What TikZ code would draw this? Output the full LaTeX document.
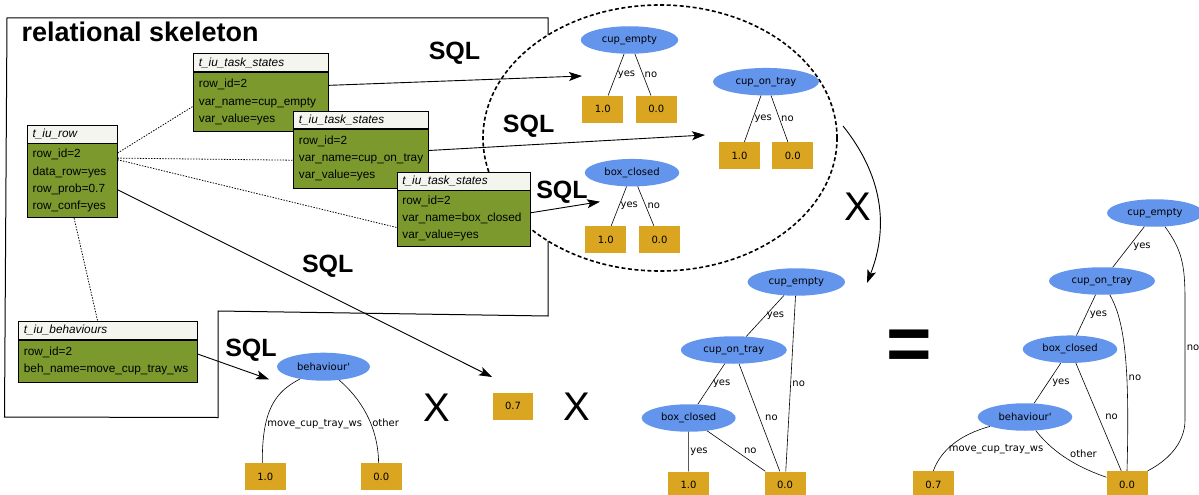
\documentclass[tikz,border=0pt]{standalone}
\usepackage{fontspec}
\setmainfont{Liberation Sans}
\newfontfamily\treefont{DejaVu Sans}
\usetikzlibrary{positioning}
\usetikzlibrary{shapes.geometric}
\usetikzlibrary{arrows.meta}

\definecolor{tblgreen}{RGB}{124,153,46}
\definecolor{tblhead}{RGB}{245,245,240}
\definecolor{varblue}{RGB}{100,149,237}
\definecolor{leafgold}{RGB}{218,165,32}

\newcommand{\tblfont}{\fontsize{11.8}{17.2}\selectfont}
\newcommand{\trfont}{\treefont\fontsize{10}{12}\selectfont}

\tikzset{
  tblhd/.style={draw, line width=0.8pt, fill=tblhead, font=\tblfont\itshape, align=left,
    inner xsep=5.5pt, inner ysep=0pt, minimum height=17.5pt, anchor=north west},
  tblbd/.style={draw, line width=0.8pt, fill=tblgreen, font=\tblfont, align=left,
    inner xsep=5.5pt, inner ysep=0pt},
  var/.style={ellipse, fill=varblue, inner sep=0pt, minimum height=27.5pt, font=\trfont},
  leaf/.style={rectangle, fill=leafgold, inner sep=0pt, minimum width=41pt, minimum height=27pt, font=\trfont},
  elab/.style={font=\trfont, inner sep=1.5pt},
  tedge/.style={line width=0.6pt},
  sqlarrow/.style={line width=0.9pt, -{Stealth[length=13pt, width=9pt, inset=3pt]}},
  sqllabel/.style={font=\fontsize{25}{25}\selectfont\bfseries},
  timeslabel/.style={font=\fontsize{40}{40}\selectfont},
  relline/.style={line width=0.8pt, dash pattern=on 1.4pt off 1.4pt}
}

\begin{document}
\begin{tikzpicture}[x=1pt, y=-1pt]
      \useasboundingbox (0,0) rectangle (1199,495);

      \coordinate (ceTip) at (582, 76);
      \coordinate (ctTip) at (705, 135);
      \coordinate (bcTip) at (600, 201.7);
      \coordinate (prTip) at (492, 377);
      \coordinate (bhTip) at (269, 379.3);
      \coordinate (mulA) at (843, 126);
      \coordinate (mulB) at (867, 283);

      % skeleton frame and product group
      \draw[line width=1pt] (7, 18) -- (548, 18) -- (548, 316) -- (218, 311) -- (218, 417.5) -- (4.5, 417) -- cycle;
      \draw[line width=1.6pt, dash pattern=on 4pt off 2.5pt, fill=white] (660, 138) ellipse [x radius=177pt, y radius=133pt];

      \node[anchor=base west, font=\fontsize{27}{27}\selectfont\bfseries] (skel) at (18, 41.7) {relational skeleton};

      % tables
      \node[tblhd, text width=124pt] (ts1hd) at (193, 53.5) {t\_iu\_task\_states};
      \node[tblbd, text width=124pt, minimum height=59.5pt, below=0pt of ts1hd] (ts1) {row\_id=2\\var\_name=cup\_empty\\var\_value=yes};
      \node[tblhd, text width=124pt] (ts2hd) at (293, 110.5) {t\_iu\_task\_states};
      \node[tblbd, text width=124pt, minimum height=59pt, below=0pt of ts2hd] (ts2) {row\_id=2\\var\_name=cup\_on\_tray\\var\_value=yes};
      \node[tblhd, text width=122pt] (ts3hd) at (396.5, 172) {t\_iu\_task\_states};
      \node[tblbd, text width=122pt, minimum height=55.5pt, below=0pt of ts3hd] (ts3) {row\_id=2\\var\_name=box\_closed\\var\_value=yes};
      \node[tblhd, text width=79pt] (trowhd) at (26.7, 125) {t\_iu\_row};
      \node[tblbd, text width=79pt, minimum height=74pt, below=0pt of trowhd] (trow) {row\_id=2\\data\_row=yes\\row\_prob=0.7\\row\_conf=yes};
      \node[tblhd, text width=167.5pt, minimum height=18pt] (tbehhd) at (18, 321) {t\_iu\_behaviours};
      \node[tblbd, text width=167.5pt, minimum height=42pt, below=0pt of tbehhd] (tbeh) {row\_id=2\\beh\_name=move\_cup\_tray\_ws};

      \draw[relline] ([yshift=27.6pt]trow.east) -- ([yshift=-4.4pt]ts1.west);
      \draw[relline] ([yshift=22.6pt]trow.east) -- ([yshift=-1.5pt]ts2.west);
      \draw[relline] ([yshift=21pt]trow.east) -- ([yshift=-9pt]ts3.west);
      \draw[relline] ([xshift=2pt]trow.south) -- ([xshift=-10pt]tbehhd.north);

      % SQL queries
      \draw[sqlarrow] ([yshift=16.6pt]ts1.east) -- (ceTip);
      \draw[sqlarrow] ([yshift=8.2pt]ts2.east) -- (ctTip);
      \draw[sqlarrow] ([yshift=5.6pt]ts3.east) -- (bcTip);
      \draw[sqlarrow] ([yshift=-9pt]trow.east) -- (prTip);
      \draw[sqlarrow] ([yshift=7.3pt]tbeh.east) -- (bhTip);

      \node[sqllabel] (sqa) at (454.5, 53) {SQL};
      \node[sqllabel] (sqb) at (528.6, 126.7) {SQL};
      \node[sqllabel] (sqc) at (562, 192.5) {SQL};
      \node[sqllabel] (sqd) at (327.7, 266.7) {SQL};
      \node[sqllabel] (sqe) at (251, 350.5) {SQL};

      % single variable trees
      \node[var, minimum width=97.5pt] (ce) at (629.5, 40) {cup\_empty};
      \node[leaf] (ceY) at (602.8, 109.2) {1.0};
      \node[leaf] (ceN) at (656.3, 109.2) {0.0};
      \draw[tedge] (ce) -- node[elab, right] {yes} (ceY);
      \draw[tedge] (ce) -- node[elab, right] {no} (ceN);

      \node[var, minimum width=106pt] (ct) at (766, 81.7) {cup\_on\_tray};
      \node[leaf] (ctY) at (739.5, 155.5) {1.0};
      \node[leaf] (ctN) at (792.8, 155.5) {0.0};
      \draw[tedge] (ct) -- node[elab, right] {yes} (ctY);
      \draw[tedge] (ct) -- node[elab, right] {no} (ctN);

      \node[var, minimum width=94.5pt] (bc) at (632, 172.7) {box\_closed};
      \node[leaf] (bcY) at (605.8, 239.5) {1.0};
      \node[leaf] (bcN) at (659.5, 239.5) {0.0};
      \draw[tedge] (bc) -- node[elab, right] {yes} (bcY);
      \draw[tedge] (bc) -- node[elab, right] {no} (bcN);

      \node[var, minimum width=93pt, minimum height=28pt] (bh) at (323.5, 366.7) {behaviour\textquotesingle};
      \node[leaf] (bhY) at (265.3, 476.5) {1.0};
      \node[leaf] (bhN) at (381.2, 476.5) {0.0};
      \draw[tedge] (bh) .. controls (275, 392) and (262, 410) .. ([xshift=-3pt]bhY.north) node[elab, pos=0.7, right] {move\_cup\_tray\_ws};
      \draw[tedge] (bh) .. controls (360, 398) and (378, 425) .. ([xshift=-2.6pt]bhN.north) node[elab, pos=0.6, right] {other};

      \node[leaf, minimum width=40.3pt, minimum height=27.3pt] (pr) at (513, 406.3) {0.7};
      \node[timeslabel] (xa) at (436.6, 408) {X};
      \node[timeslabel] (xb) at (577, 407) {X};

      % multiplication of the group
      \draw[line width=0.9pt, -{Stealth[length=13pt, width=9pt, inset=3pt]}] (mulA) to[bend left=30] (mulB);
      \node[timeslabel] (xc) at (858, 207) {X};

      % product tree
      \node[var, minimum width=97.5pt] (mce) at (796.3, 282) {cup\_empty};
      \node[var, minimum width=106pt] (mct) at (733.8, 350) {cup\_on\_tray};
      \node[var, minimum width=94pt] (mbc) at (688.7, 418) {box\_closed};
      \node[leaf] (mone) at (688.5, 485) {1.0};
      \node[leaf] (mzero) at (785, 485) {0.0};
      \draw[tedge] (mce) -- node[elab, right] {yes} (mct);
      \draw[tedge] (mce) -- node[elab, right] {no} (mzero);
      \draw[tedge] (mct) -- node[elab, right] {yes} (mbc);
      \draw[tedge] (mct) -- node[elab, right=4pt] {no} (mzero);
      \draw[tedge] (mbc) -- node[elab, right] {yes} (mone);
      \draw[tedge] (mbc) -- node[elab, right=6pt] {no} (mzero);

      \node[font=\fontsize{78}{78}\selectfont\bfseries] (eq) at (909, 350) {=};

      % final tree
      \node[var, minimum width=96pt] (rce) at (1155, 213) {cup\_empty};
      \node[var, minimum width=106pt] (rct) at (1102, 281) {cup\_on\_tray};
      \node[var, minimum width=94.6pt] (rbc) at (1070, 349.2) {box\_closed};
      \node[var, minimum width=94.6pt] (rbh) at (1025, 417) {behaviour\textquotesingle};
      \node[leaf] (rpr) at (933.4, 484.5) {0.7};
      \node[leaf] (rzero) at (1127, 484.5) {0.0};
      \draw[tedge] (rce) -- node[elab, right=3pt] {yes} (rct);
      \draw[tedge] (rce) .. controls (1182, 250) and (1185, 265) .. (1185, 300) -- (1185, 420) node[elab, pos=0.4, right] {no} .. controls (1185, 445) and (1165, 462) .. (rzero.north east);
      \draw[tedge] (rct) -- node[elab, right=2pt] {yes} (rbc);
      \draw[tedge] (rct) .. controls (1124, 320) and (1130, 360) .. (rzero.north) node[elab, pos=0.65, right] {no};
      \draw[tedge] (rbc) -- node[elab, right=3pt] {yes} (rbh);
      \draw[tedge] (rbc) -- node[elab, right=5pt] {no} (rzero);
      \draw[tedge] (rbh) .. controls (958, 435) and (940, 452) .. (rpr.north) node[elab, pos=0.6, right] {move\_cup\_tray\_ws};
      \draw[tedge] (rbh) .. controls (1055, 455) and (1080, 468) .. (rzero) node[elab, pos=0.5, above right] {other};
    \end{tikzpicture}
\end{document}
